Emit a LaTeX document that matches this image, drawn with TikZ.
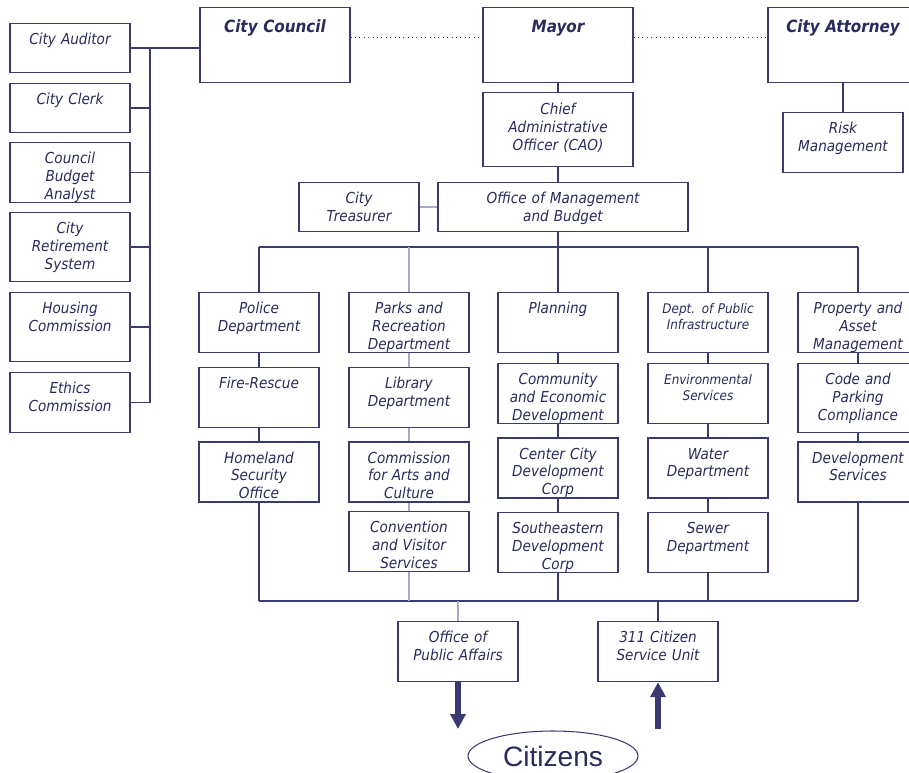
\documentclass[tikz,border=0pt]{standalone}
\usepackage{fontspec}
\usepackage{tikz}
\usetikzlibrary{positioning,calc,arrows.meta,shapes.geometric}

\newfontfamily\orgfont[FakeStretch=0.9]{DejaVu Sans}
\newfontfamily\citfont{Liberation Sans}
\definecolor{orgline}{RGB}{58,58,112}
\definecolor{orgtext}{RGB}{42,42,92}
\definecolor{orglight}{RGB}{168,168,204}

\tikzset{
  dept/.style={draw=orgline, line width=0.7pt, text=orgtext, text width=2.4cm, align=center,
    inner sep=0pt, text height=0.42cm, text depth=0.78cm, anchor=north,
    font=\orgfont\itshape\fontsize{8.6}{10.2}\selectfont},
  deptshort/.style={dept, text depth=0.56cm},
  depttall/.style={dept, text depth=0.96cm},
  toplevel/.style={dept, text width=3cm, text height=0.5cm, text depth=1cm,
    font=\orgfont\itshape\bfseries\fontsize{9.6}{11}\selectfont},
  link/.style={draw=orgline, line width=0.7pt},
  lightlink/.style={draw=orglight, line width=0.7pt},
  dotlink/.style={draw=orgline, line width=0.5pt, dotted},
  bigarrow/.style={draw=orgline, line width=3pt, -{Triangle[width=0.3cm,length=0.3cm]}}
}

\begin{document}
\begin{tikzpicture}[x=0.02cm, y=-0.02cm, node distance=0.27cm]
  \useasboundingbox (0,0) rectangle (909,773);

  % council side
  \node [deptshort] (auditor) at (70,23) {City Auditor};
  \node [deptshort] (clerk) at (70,83) {City Clerk};
  \node [dept] (cba) at (70,142) {Council\\Budget\\Analyst};
  \node [depttall] (crs) at (70,212) {City\\Retirement\\System};
  \node [depttall] (housing) at (70,292) {Housing\\Commission};
  \node [dept] (ethics) at (70,372) {Ethics\\Commission};
  \coordinate (lbus) at (150,0);

  \node [toplevel] (council) at (275,7) {City Council};
  \node [toplevel] (mayor) at (558,7) {Mayor};
  \node [toplevel] (attorney) at (843,7) {City Attorney};

  \node [dept, text width=3cm, text height=0.44cm, text depth=1.04cm] (cao) at (558,92)
      {Chief\\Administrative\\Officer (CAO)};
  \node [dept] (risk) at (843,112) {Risk\\Management};
  \node [deptshort, text width=5cm] (omb) at (563,182) {Office of Management\\and Budget};
  \node [deptshort] (treasurer) at (359,182) {City\\Treasurer};

  % departments
  \node [dept] (police) at (259,292) {Police\\Department};
  \node [dept, below=of police] (fire) {Fire-Rescue};
  \node [dept, below=of fire] (homeland) {Homeland\\Security\\Office};

  \node [dept] (parks) at (409,292) {Parks and\\Recreation\\Department};
  \node [dept, below=of parks] (library) {Library\\Department};
  \node [dept, below=of library] (arts) {Commission\\for Arts and\\Culture};
  \node [dept, below=0.17cm of arts] (convention) {Convention\\and Visitor\\Services};

  \node [dept] (planning) at (558,292) {Planning};
  \node [dept, below=0.19cm of planning] (ced) {Community\\and Economic\\Development};
  \node [dept, below=of ced] (ccdc) {Center City\\Development\\Corp};
  \node [dept, below=of ccdc] (sedc) {Southeastern\\Development\\Corp};

  \node [dept, font=\orgfont\itshape\fontsize{7.6}{9.2}\selectfont] (dpi) at (708,292)
      {Dept. of Public\\Infrastructure};
  \node [dept, below=0.19cm of dpi, font=\orgfont\itshape\fontsize{7.6}{9.2}\selectfont] (env)
      {Environmental\\Services};
  \node [dept, below=of env] (water) {Water\\Department};
  \node [dept, below=of water] (sewer) {Sewer\\Department};

  \node [dept] (property) at (858,292) {Property and\\Asset\\Management};
  \node [depttall, below=0.19cm of property] (code) {Code and\\Parking\\Compliance};
  \node [dept, below=0.17cm of code] (devsvc) {Development\\Services};

  \node [dept] (opa) at (458,621) {Office of\\Public Affairs};
  \node [dept] (csu) at (658,621) {311 Citizen\\Service Unit};

  \node [draw=orgline, line width=0.6pt, ellipse, minimum width=3.4cm, minimum height=1cm,
      text=orgtext, font=\citfont\fontsize{16}{18}\selectfont] (citizens) at (553,756) {Citizens};
  \coordinate (opaend) at (458,729);
  \coordinate (csustart) at (658,729);

  \coordinate (tbus) at (558,247);
  \coordinate (bbus) at (558,601);

  % connectors
  \draw [link] (auditor.east) -- (auditor.east -| council.west);
  \draw [link] (auditor.east -| lbus) -- (ethics.east -| lbus);
  \foreach \n in {clerk,cba,crs,housing,ethics}
    \draw [link] (\n.east) -- (\n.east -| lbus);

  \draw [dotlink] ([yshift=0.15cm]council.east) -- ([yshift=0.15cm]mayor.west);
  \draw [dotlink] ([yshift=0.15cm]mayor.east) -- ([yshift=0.15cm]attorney.west);
  \draw [link] (mayor) -- (cao);
  \draw [link] (attorney) -- (risk);
  \draw [link] (cao.south) -- (cao.south |- omb.north);
  \draw [lightlink] (treasurer) -- (omb);
  \draw [link] (cao.south |- omb.south) -- (tbus);
  \draw [link] (police.north |- tbus) -- (property.north |- tbus);
  \foreach \n in {police,planning,dpi,property}
    \draw [link] (\n.north) -- (\n.north |- tbus);
  \draw [lightlink] (parks.north) -- (parks.north |- tbus);

  \foreach \a/\b in {police/fire,fire/homeland,planning/ced,ced/ccdc,ccdc/sedc,
                     dpi/env,env/water,water/sewer,property/code,code/devsvc}
    \draw [link] (\a) -- (\b);
  \foreach \a/\b in {parks/library,library/arts,arts/convention}
    \draw [lightlink] (\a) -- (\b);

  \draw [link] (homeland.south |- bbus) -- (devsvc.south |- bbus);
  \foreach \n in {homeland,sedc,sewer,devsvc}
    \draw [link] (\n.south) -- (\n.south |- bbus);
  \draw [lightlink] (convention.south) -- (convention.south |- bbus);
  \draw [lightlink] (opa.north) -- (opa.north |- bbus);
  \draw [link] (csu.north) -- (csu.north |- bbus);

  \draw [bigarrow] (opa.south) -- (opaend);
  \draw [bigarrow] (csustart) -- (csu.south);
\end{tikzpicture}
\end{document}
